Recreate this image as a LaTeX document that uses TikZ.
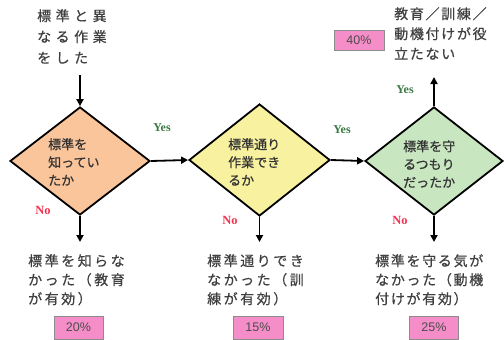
\documentclass[tikz,border=0pt]{standalone}
\usepackage{fontspec}
\setmainfont{Liberation Serif}
\newfontfamily\jpd[FakeBold=0.6]{Noto Sans CJK JP}
\newfontfamily\jpa[LetterSpace=18,FakeBold=0.6]{Noto Sans CJK JP}
\newfontfamily\jpb[LetterSpace=32,FakeBold=0.6]{Noto Sans CJK JP}
\newfontfamily\jpc[LetterSpace=12,FakeBold=0.6]{Noto Sans CJK JP}
\newfontfamily\ars{Liberation Sans}
\usetikzlibrary{shapes.geometric,arrows.meta}
\definecolor{orangec}{HTML}{FBC59B}
\definecolor{yellowc}{HTML}{F8F2A0}
\definecolor{greenc}{HTML}{C8E6C0}
\definecolor{pinkc}{HTML}{F58DC8}
\definecolor{yesc}{HTML}{3A7A45}
\definecolor{noc}{HTML}{F03550}
\tikzset{
  dia/.style={diamond, draw=black, line width=1.8pt, inner sep=0pt},
  arr/.style={-{Triangle[length=7pt,width=7pt]}, line width=1.8pt},
  lbl/.style={anchor=north west, inner sep=0pt, align=left, text=black!75},
  dtext/.style={anchor=north west, inner sep=0pt, align=left, text=black!80, font=\jpd\fontsize{13}{18}\selectfont},
  pct/.style={draw=black!45, line width=0.8pt, fill=pinkc, inner sep=0pt, font=\ars\fontsize{12.5}{12.5}\selectfont, text=black!70},
  yes/.style={text=yesc, font=\bfseries\fontsize{12}{12}\selectfont},
  no/.style={text=noc, font=\bfseries\fontsize{12.5}{12.5}\selectfont}
}
\begin{document}
\begin{tikzpicture}[x=1pt,y=-1pt]
\useasboundingbox (0,0) rectangle (504,340);
% diamonds
\node[dia, fill=orangec, minimum width=140pt, minimum height=108pt] (d1) at (80,161) {};
\node[dia, fill=yellowc, minimum width=141pt, minimum height=112pt] (d2) at (259.5,160) {};
\node[dia, fill=greenc, minimum width=138pt, minimum height=108pt] (d3) at (434,161) {};
% diamond texts
\node[dtext] (t1) at (48,138) {標準を\\知ってい\\たか};
\node[dtext] (t2) at (228,138) {標準通り\\作業でき\\るか};
\node[dtext] (t3) at (403,140) {標準を守\\るつもり\\だったか};
% top-left text
\node[lbl, font=\jpb\fontsize{14}{21}\selectfont] (top) at (37,9) {標準と異\\なる作業\\をした};
\coordinate (s1) at (80,75);
\draw[arr] (s1) -- (d1.north);
% horizontal arrows
\draw[arr] (d1.east) -- (d2.west);
\draw[arr] (d2.east) -- (d3.west);
% up arrow
\coordinate (u3) at (434,77);
\draw[arr] (d3.north) -- (u3);
% top-right text
\node[lbl, font=\jpc\fontsize{14}{20}\selectfont] (tr) at (394,7) {教育／訓練／\\動機付けが役\\立たない};
\node[pct, minimum width=50pt, minimum height=20pt] (p0) at (359,40) {40\%};
% down arrows
\coordinate (b1) at (80,242);
\coordinate (b2) at (259.5,242);
\coordinate (b3) at (434,242);
\draw[arr] (d1.south) -- (b1);
\draw[arr] (d2.south) -- (b2);
\draw[arr] (d3.south) -- (b3);
% bottom texts
\node[lbl, font=\jpa\fontsize{14}{19}\selectfont] (r1) at (28,254) {標準を知らな\\かった（教育\\が有効）};
\node[lbl, font=\jpa\fontsize{14}{19}\selectfont] (r2) at (207,254) {標準通りでき\\なかった（訓\\練が有効）};
\node[lbl, font=\jpc\fontsize{14}{19}\selectfont] (r3) at (375,254) {標準を守る気が\\なかった（動機\\付けが有効）};
% percent boxes
\node[pct, minimum width=49pt, minimum height=23pt] (p1) at (78.5,327.5) {20\%};
\node[pct, minimum width=50pt, minimum height=23pt] (p2) at (258,327.5) {15\%};
\node[pct, minimum width=49pt, minimum height=23pt] (p3) at (434,327.5) {25\%};
% yes / no
\node[yes] (y1) at (162,128) {Yes};
\node[yes] (y2) at (342,130) {Yes};
\node[yes] (y3) at (405,90) {Yes};
\node[no] (n1) at (43,210) {No};
\node[no] (n2) at (230,220) {No};
\node[no] (n3) at (400,220) {No};
\end{tikzpicture}
\end{document}
